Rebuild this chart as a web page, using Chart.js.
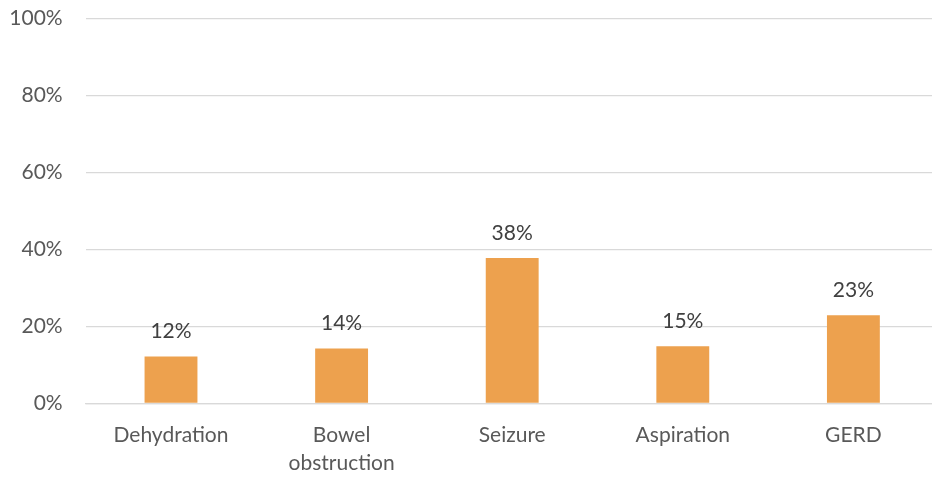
<!DOCTYPE html>
<html>
<head>
<meta charset="utf-8">
<script src="https://cdn.jsdelivr.net/npm/chart.js@4/dist/chart.umd.min.js"></script>
<style>
  html, body { margin: 0; padding: 0; background: #fff; overflow: hidden; }
  #wrap { width: 940px; height: 495px; position: relative; margin-top: -17px; }
</style>
</head>
<body>
<div id="wrap"><canvas id="c"></canvas></div>
<script>
const categories = ["Dehydration", ["Bowel", "obstruction"], "Seizure", "Aspiration", "GERD"];
const values = [12.2, 14.3, 37.8, 14.9, 22.9];
const valueLabels = ["12%", "14%", "38%", "15%", "23%"];
const yTicks = [0, 20, 40, 60, 80, 100];

const FONT = "Lato, 'Open Sans', sans-serif";
const FS = 21;

const labelPlugin = {
  id: 'valueLabels',
  afterDatasetsDraw(chart) {
    const ctx = chart.ctx;
    const meta = chart.getDatasetMeta(0);
    ctx.save();
    ctx.font = FS + "px " + FONT;
    ctx.fillStyle = "#404040";
    ctx.textAlign = "center";
    ctx.textBaseline = "middle";
    meta.data.forEach((bar, i) => {
      ctx.fillText(valueLabels[i], bar.x, bar.y - 25);
    });
    ctx.restore();
  }
};

new Chart(document.getElementById('c'), {
  type: 'bar',
  data: {
    labels: categories,
    datasets: [{
      data: values,
      backgroundColor: '#EDA14E',
      borderWidth: 0,
      barPercentage: 0.31,
      categoryPercentage: 1.0
    }]
  },
  options: {
    responsive: true,
    maintainAspectRatio: false,
    animation: false,
    layout: { padding: { top: 0.5, left: 0, right: 1.3, bottom: 0 } },
    plugins: { legend: { display: false }, tooltip: { enabled: false } },
    scales: {
      x: {
        grid: { display: false, drawTicks: false },
        border: { display: true, color: '#D9D9D9', width: 1.3 },
        ticks: {
          color: '#595959',
          font: { family: FONT, size: FS, lineHeight: 28 / FS },
          padding: 18,
          maxRotation: 0,
          autoSkip: false
        },
        afterFit(scale) { scale.height = 74.5; }
      },
      y: {
        min: 0,
        max: 100,
        afterBuildTicks(scale) { scale.ticks = yTicks.map(v => ({ value: v })); },
        grid: { color: '#D9D9D9', lineWidth: 1.3, drawTicks: false },
        border: { display: false },
        ticks: {
          color: '#595959',
          font: { family: FONT, size: FS },
          padding: 23,
          callback: v => v + '%'
        },
        afterFit(scale) { scale.width = 85.7; }
      }
    }
  },
  plugins: [labelPlugin]
});
</script>
</body>
</html>
